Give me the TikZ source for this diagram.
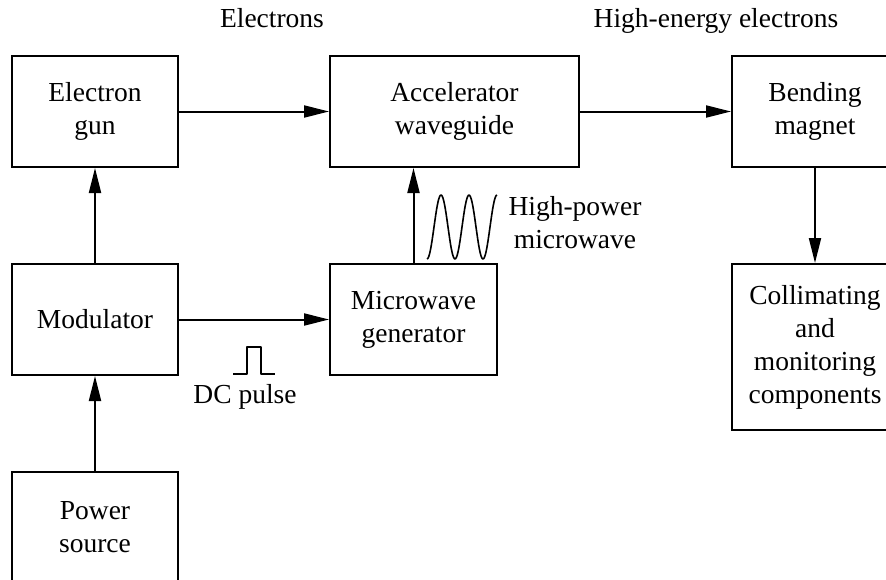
\documentclass[tikz,border=0pt]{standalone}
\usepackage{fontspec}
\setmainfont{Liberation Serif}
\usetikzlibrary{arrows.meta}
\newcommand{\diagfont}{\fontsize{27.5}{33}\selectfont}
\tikzset{
  % blocco del diagramma
  block/.style={draw=black, line width=2pt, minimum width=166pt, minimum height=111pt,
    align=center, font=\diagfont, inner sep=2pt},
  % collegamento con freccia
  flow/.style={line width=2pt, -{Triangle[length=25pt, width=12pt]}},
  % etichette
  lbl/.style={font=\diagfont, align=center, inner sep=0pt},
  % forme d'onda
  wave/.style={line width=1.6pt, line join=round},
}
\begin{document}
\begin{tikzpicture}[x=1pt, y=-1pt]
  \useasboundingbox (0,0) rectangle (886,579);
  \clip (0,0) rectangle (886,579);
  \node[block] (gun) at (95,111.5) {Electron\\gun};
  \node[block, minimum width=249pt] (accel) at (454.5,111.5) {Accelerator\\waveguide};
  \node[block] (bend) at (815,111.5) {Bending\\magnet};
  \node[block] (mod) at (95,319.5) {Modulator};
  \node[block, minimum width=167pt] (micro) at (413.5,319.5) {Microwave\\generator};
  \node[block, minimum height=166pt] (coll) at (815,347) {Collimating\\and\\monitoring\\components};
  \node[block] (power) at (95,527.5) {Power\\source};
  \draw[flow] (gun) -- (accel);
  \draw[flow] (accel) -- (bend);
  \draw[flow] (bend) -- (coll);
  \draw[flow] (power) -- (mod);
  \draw[flow] (mod) -- (gun);
  \draw[flow] (mod) -- (micro);
  \draw[flow] (micro.north) -- (micro.north |- accel.south);
  \node[lbl, anchor=base] (electrons) at (272,27) {Electrons};
  \node[lbl, anchor=base] (hielectrons) at (716,27) {High-energy electrons};
  \node[lbl, text depth=0pt] (hipower) at (575,222) {High-power\\microwave};
  \node[lbl, anchor=base] (dcpulse) at (245,403) {DC pulse};
  % impulso e sinusoide
  \draw[wave] (233,374) -- (247,374) -- (247,347) -- (261,347) -- (261,374) -- (275,374);
  \draw[wave] plot[domain=0:2.5, samples=80, smooth] ({427+28*\x}, {227+32*cos(360*\x)});
\end{tikzpicture}
\end{document}
